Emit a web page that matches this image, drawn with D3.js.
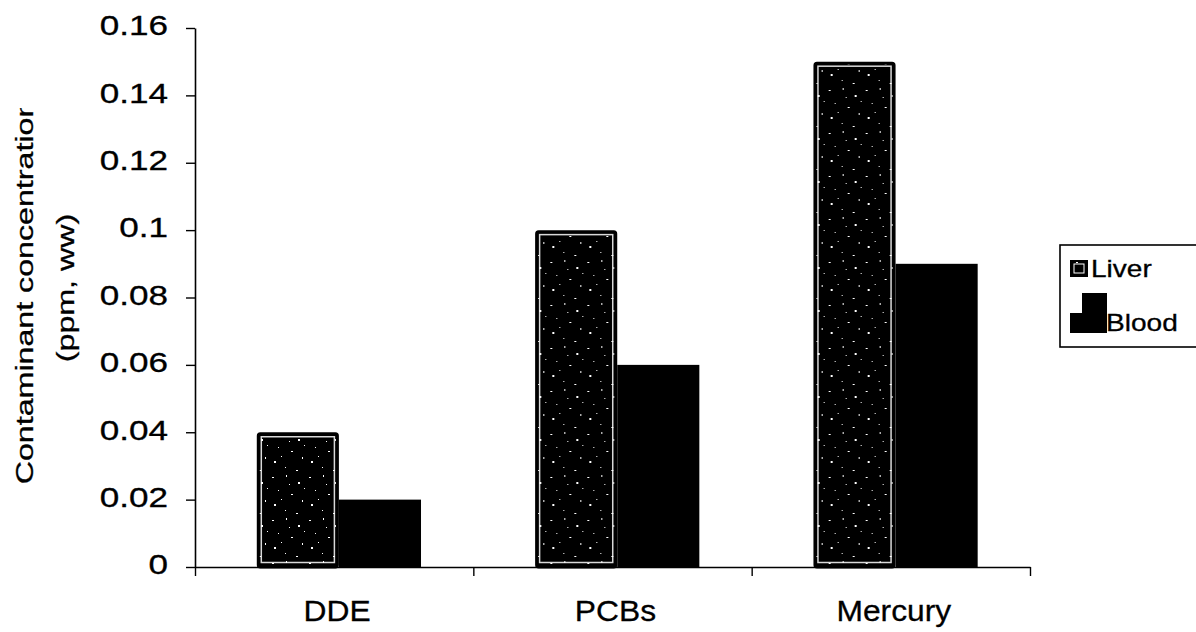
<!DOCTYPE html>
<html><head><meta charset="utf-8">
<script src="https://cdn.jsdelivr.net/npm/d3@7"></script>
<style>
html,body{margin:0;padding:0;background:#fff;}
svg{display:block;font-family:"Liberation Sans",Arial,sans-serif;}
svg text{stroke:#000;stroke-width:0.3px;}
</style></head>
<body>
<svg id="chart" width="1196" height="632"></svg>
<script>
const categories = ["DDE", "PCBs", "Mercury"];
const seriesNames = ["Liver", "Blood"];
const liverValues = [0.04, 0.10, 0.15];
const bloodValues = [0.02, 0.06, 0.09];
const yTickValues = [0, 0.02, 0.04, 0.06, 0.08, 0.1, 0.12, 0.14, 0.16];
const yTitleLines = ["Contaminant concentration", "(ppm, ww)"];

(function(){
const svg = d3.select("#chart");
const defs = svg.append("defs");

const pat = defs.append("pattern").attr("id","speckle").attr("patternUnits","userSpaceOnUse")
  .attr("width",37).attr("height",43);
pat.append("rect").attr("width",37).attr("height",43).attr("fill","#000");
const dots = [[3,4,2,1],[17,2,1,2],[29,9,2,2],[9,17,1,1],[22,21,2,1],[33,27,1,2],[5,31,2,2],[16,37,1,1],[27,40,2,1],[12,26,1,1],[35,15,1,1],[20,11,1,1]];
dots.forEach(d=>pat.append("rect").attr("x",d[0]).attr("y",d[1]).attr("width",d[2]).attr("height",d[3]).attr("fill","#fff"));

defs.append("clipPath").attr("id","titleClip").append("rect")
  .attr("x",0).attr("y",108).attr("width",120).attr("height",500);

const mLeft = 195, mRight = 1030, mBottom = 567, mTop = 28;
const x0 = d3.scaleBand().domain(categories).range([mLeft, mRight]).padding(0);
const x1 = d3.scaleBand().domain(seriesNames).range([x0.bandwidth()*0.222, x0.bandwidth()*0.812]).padding(0);
const y = d3.scaleLinear().domain([0, 0.16]).range([mBottom, mTop]);

const data = categories.map((c,i)=>({cat:c, vals:[{s:"Liver",v:liverValues[i]},{s:"Blood",v:bloodValues[i]}]}));

const groups = svg.append("g").selectAll("g").data(data).join("g")
  .attr("transform", d=>`translate(${x0(d.cat)},0)`);

groups.each(function(d){
  const g = d3.select(this);
  d.vals.forEach(o=>{
    const bx = x1(o.s), bw = x1.bandwidth(), by = y(o.v), bh = y(0)-y(o.v);
    if(o.s==="Liver"){
      g.append("rect").attr("x",bx+1.5).attr("y",by+1.5).attr("width",bw-3).attr("height",bh-1.5)
        .attr("fill","url(#speckle)").attr("stroke","#000").attr("stroke-width",3).attr("rx",2);
      g.append("rect").attr("x",bx+4.5).attr("y",by+4.5).attr("width",bw-9).attr("height",bh-9)
        .attr("fill","none").attr("stroke","#fff").attr("stroke-width",1.5).attr("stroke-opacity",0.85);
    } else {
      g.append("rect").attr("x",bx).attr("y",by).attr("width",bw).attr("height",bh).attr("fill","#000");
    }
  });
});

const yAxis = svg.append("g").attr("transform",`translate(${mLeft},0)`)
  .call(d3.axisLeft(y).tickValues(yTickValues).tickSize(9).tickSizeOuter(0).tickPadding(0)
    .tickFormat(d=> d===0 ? "0" : String(+d.toFixed(2))));
yAxis.select(".domain").attr("stroke","#000").attr("stroke-width",1.6);
yAxis.selectAll(".tick line").attr("stroke","#000").attr("stroke-width",1.4);
yAxis.selectAll(".tick text").attr("x",0).attr("font-size",27).attr("fill","#000")
  .attr("font-family","'Liberation Sans',Arial,sans-serif").attr("dy","0.25em")
  .attr("stroke-width",0.5)
  .attr("transform","translate(-27,0) scale(1.3,1)");

const xb = d3.scaleLinear().domain([0, categories.length]).range([mLeft, mRight]);
const xAxis = svg.append("g").attr("transform",`translate(0,${mBottom})`)
  .call(d3.axisBottom(xb).tickValues(d3.range(categories.length+1)).tickSize(9).tickSizeOuter(0).tickFormat(""));
xAxis.select(".domain").attr("stroke","#000").attr("stroke-width",1.6);
xAxis.selectAll(".tick line").attr("stroke","#000").attr("stroke-width",1.4);

svg.append("g").selectAll("text").data(categories).join("text")
  .attr("transform", d=>`translate(${x0(d)+x0.bandwidth()/2+3},621) scale(1.06,1)`)
  .attr("text-anchor","middle").attr("font-size",30).attr("fill","#000").text(d=>d);

const yt = svg.append("g").attr("clip-path","url(#titleClip)");
yt.append("text").attr("transform","translate(33,292) rotate(-90) scale(1.37,1)")
  .attr("text-anchor","middle").attr("font-size",23.5).attr("fill","#000").text(yTitleLines[0]);
yt.append("text").attr("transform","translate(74,288) rotate(-90) scale(1.37,1)")
  .attr("text-anchor","middle").attr("font-size",23.5).attr("fill","#000").text(yTitleLines[1]);

const lg = svg.append("g");
lg.append("rect").attr("x",1060).attr("y",245).attr("width",160).attr("height",102)
  .attr("fill","#fff").attr("stroke","#000").attr("stroke-width",1.6);
lg.append("rect").attr("x",1071).attr("y",261).attr("width",16).attr("height",15)
  .attr("fill","url(#speckle)").attr("stroke","#000").attr("stroke-width",2);
lg.append("rect").attr("x",1074).attr("y",264).attr("width",10).attr("height",9)
  .attr("fill","none").attr("stroke","#fff").attr("stroke-width",1);
lg.append("path").attr("d","M1082,293 H1107 V333 H1070 V313 H1082 Z").attr("fill","#000");
const legTexts = [{t:seriesNames[0],x:1091,y:277},{t:seriesNames[1],x:1106,y:331}];
lg.selectAll("text.leg").data(legTexts).join("text").attr("class","leg")
  .attr("transform",d=>`translate(${d.x},${d.y}) scale(1.22,1)`)
  .attr("font-size",23).attr("fill","#000").text(d=>d.t);
})();
</script>
</body></html>
